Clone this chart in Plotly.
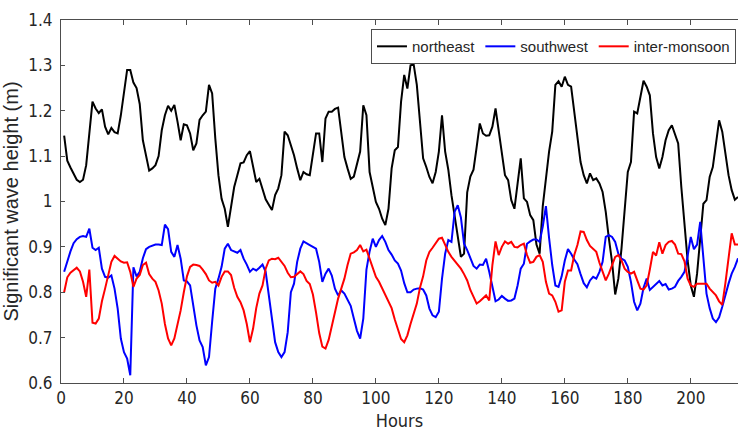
import plotly.graph_objects as go

hours = list(range(1, 216))

northeast = [
    1.145, 1.09, 1.075, 1.06, 1.048, 1.043, 1.048, 1.08, 1.15, 1.22,
    1.205, 1.195, 1.203, 1.165, 1.148, 1.162, 1.153, 1.15, 1.19, 1.24,
    1.29, 1.29, 1.262, 1.25, 1.215, 1.135, 1.105, 1.068, 1.073, 1.08,
    1.10, 1.157, 1.19, 1.211, 1.2, 1.213, 1.176, 1.135, 1.17, 1.168,
    1.15, 1.113, 1.128, 1.18, 1.19, 1.198, 1.257, 1.238, 1.139, 1.058,
    1.006, 0.984, 0.944, 0.988, 1.032, 1.058, 1.084, 1.086, 1.102, 1.111,
    1.08, 1.043, 1.05, 1.025, 1.005, 0.993, 0.981, 1.014, 1.029, 1.058,
    1.154, 1.146, 1.124, 1.102, 1.073, 1.047, 1.065, 1.06, 1.058, 1.102,
    1.15, 1.15, 1.087, 1.183, 1.198, 1.198, 1.204, 1.207, 1.146, 1.098,
    1.073, 1.05, 1.055, 1.085, 1.11, 1.212, 1.19, 1.065, 1.032, 0.999,
    0.984, 0.962, 0.948, 0.984, 1.073, 1.113, 1.12, 1.22, 1.279, 1.249,
    1.3, 1.302, 1.257, 1.172, 1.095, 1.076, 1.054, 1.04, 1.065, 1.11,
    1.19, 1.11, 1.07, 1.014, 0.97, 0.926, 0.878, 0.885, 1.02, 1.055,
    1.07, 1.12, 1.172, 1.15, 1.145, 1.146, 1.165, 1.205, 1.154, 1.102,
    1.058, 1.047, 1.003, 0.984, 1.036, 1.095, 1.007, 0.999, 0.97, 0.959,
    0.905, 0.885, 0.99, 1.058, 1.11, 1.154, 1.257, 1.265, 1.253, 1.275,
    1.257, 1.253, 1.198, 1.139, 1.087, 1.058, 1.04, 1.062, 1.047, 1.051,
    1.04, 1.021, 0.977, 0.918, 0.867, 0.795, 0.83, 0.896, 0.984, 1.065,
    1.087, 1.198, 1.194, 1.234, 1.266, 1.253, 1.234, 1.15, 1.098, 1.073,
    1.098, 1.135, 1.157, 1.168, 1.15, 1.128, 1.032, 0.944, 0.87, 0.815,
    0.79, 0.841, 0.915, 0.995, 1.003, 1.054, 1.076, 1.128, 1.179, 1.154,
    1.106, 1.058, 1.025, 1.004, 1.01,
]

southwest = [
    0.845, 0.868, 0.89, 0.908, 0.917, 0.922, 0.924, 0.922, 0.94, 0.898,
    0.893, 0.898, 0.852, 0.834, 0.832, 0.837, 0.808, 0.764, 0.698, 0.668,
    0.654, 0.617, 0.855, 0.835, 0.845, 0.875, 0.895, 0.9, 0.903, 0.905,
    0.905, 0.904, 0.949, 0.939, 0.889, 0.878, 0.904, 0.874, 0.826, 0.824,
    0.815, 0.771, 0.727, 0.694, 0.679, 0.639, 0.657, 0.735, 0.808, 0.83,
    0.856, 0.896, 0.907, 0.893, 0.89, 0.887, 0.893, 0.874, 0.861, 0.845,
    0.852, 0.848, 0.854, 0.861, 0.845, 0.793, 0.742, 0.69, 0.668, 0.657,
    0.668, 0.712, 0.8, 0.819, 0.867, 0.896, 0.912, 0.907, 0.904, 0.9,
    0.896, 0.867, 0.823, 0.841, 0.852, 0.837, 0.808, 0.793, 0.804, 0.797,
    0.782, 0.77, 0.742, 0.715, 0.698, 0.742, 0.85, 0.89, 0.918, 0.9,
    0.915, 0.924, 0.911, 0.893, 0.883, 0.87, 0.863, 0.848, 0.82, 0.8,
    0.8, 0.806, 0.808, 0.809, 0.806, 0.793, 0.764, 0.749, 0.745, 0.757,
    0.83, 0.885, 0.915, 0.911, 0.977, 0.992, 0.965, 0.907, 0.893, 0.875,
    0.858, 0.852, 0.861, 0.86, 0.874, 0.845, 0.815, 0.78, 0.784, 0.792,
    0.786, 0.781, 0.782, 0.786, 0.815, 0.852, 0.863, 0.907, 0.912, 0.916,
    0.916, 0.911, 0.945, 0.99, 0.92, 0.86, 0.815, 0.812, 0.835, 0.87,
    0.895, 0.885, 0.872, 0.862, 0.84, 0.82, 0.811, 0.826, 0.834, 0.83,
    0.845, 0.867, 0.922, 0.926, 0.922, 0.911, 0.885, 0.874, 0.87, 0.856,
    0.823, 0.779, 0.76, 0.775, 0.81, 0.83, 0.805, 0.812, 0.82, 0.825,
    0.815, 0.818, 0.806, 0.808, 0.812, 0.825, 0.834, 0.845, 0.88, 0.922,
    0.895, 0.905, 0.955, 0.87, 0.797, 0.765, 0.742, 0.734, 0.745, 0.768,
    0.797, 0.819, 0.841, 0.856, 0.875,
]

inter_monsoon = [
    0.8, 0.833, 0.843, 0.848, 0.854, 0.846, 0.823, 0.79, 0.85, 0.733,
    0.731, 0.742, 0.78, 0.808, 0.837, 0.867, 0.88, 0.873, 0.868, 0.865,
    0.866, 0.845, 0.812, 0.83, 0.838, 0.86, 0.865, 0.84, 0.83, 0.823,
    0.804, 0.775, 0.73, 0.698, 0.683, 0.698, 0.727, 0.76, 0.8, 0.835,
    0.856, 0.861, 0.86, 0.858, 0.85, 0.84, 0.826, 0.821, 0.823, 0.815,
    0.834, 0.846, 0.846, 0.838, 0.81, 0.79, 0.778, 0.76, 0.73, 0.69,
    0.72, 0.765, 0.797, 0.815, 0.852, 0.87, 0.874, 0.873, 0.876, 0.868,
    0.858, 0.843, 0.833, 0.834, 0.841, 0.846, 0.84, 0.825, 0.818, 0.795,
    0.755, 0.71, 0.68, 0.676, 0.695, 0.725, 0.757, 0.786, 0.808, 0.83,
    0.86, 0.885, 0.888, 0.893, 0.904, 0.89, 0.894, 0.874, 0.852, 0.834,
    0.823, 0.808, 0.795, 0.778, 0.765, 0.74, 0.72, 0.697, 0.69, 0.705,
    0.73, 0.75, 0.775, 0.81, 0.835, 0.87, 0.889, 0.898, 0.909, 0.918,
    0.92, 0.905, 0.889, 0.878, 0.87, 0.86, 0.852, 0.84, 0.826, 0.805,
    0.788, 0.775, 0.78, 0.786, 0.793, 0.782, 0.86, 0.912, 0.882, 0.9,
    0.912, 0.907, 0.911, 0.9, 0.899, 0.904, 0.907, 0.882, 0.865, 0.867,
    0.878, 0.882, 0.867, 0.823, 0.797, 0.793, 0.779, 0.757, 0.76, 0.823,
    0.848, 0.848, 0.882, 0.904, 0.934, 0.933, 0.915, 0.902, 0.896, 0.889,
    0.865, 0.845, 0.826, 0.841, 0.86, 0.878, 0.882, 0.87, 0.852, 0.845,
    0.841, 0.845, 0.826, 0.808, 0.806, 0.815, 0.85, 0.889, 0.881, 0.91,
    0.885, 0.904, 0.911, 0.913, 0.905, 0.885, 0.884, 0.868, 0.83, 0.815,
    0.812, 0.819, 0.819, 0.819, 0.819, 0.808, 0.8, 0.793, 0.78, 0.772,
    0.82, 0.87, 0.93, 0.905, 0.905,
]

x_ticks = [0, 20, 40, 60, 80, 100, 120, 140, 160, 180, 200]
y_ticks = [0.6, 0.7, 0.8, 0.9, 1.0, 1.1, 1.2, 1.3, 1.4]
y_tick_labels = ["0.6", "0.7", "0.8", "0.9", "1", "1.1", "1.2", "1.3", "1.4"]

series = [
    ("northeast", northeast, "#000000"),
    ("southwest", southwest, "#0000FF"),
    ("inter-monsoon", inter_monsoon, "#FF0000"),
]

fig = go.Figure()
for name, vals, color in series:
    fig.add_trace(go.Scatter(
        x=hours, y=vals, mode="lines", name=name,
        line=dict(color=color, width=2),
    ))

narrow = "Liberation Sans Narrow, Arial Narrow, DejaVu Sans Condensed, Liberation Sans, Arial, sans-serif"
regular = "Liberation Sans, Arial, sans-serif"
axis_color = "#4d4d4d"
text_color = "#262626"

fig.update_layout(
    width=738, height=431,
    margin=dict(l=61, r=0, t=20, b=48, autoexpand=False),
    paper_bgcolor="white", plot_bgcolor="white",
    font=dict(family=regular, color=text_color),
    showlegend=True,
    legend=dict(
        orientation="h", x=0.997, xanchor="right", y=0.975, yanchor="top",
        bgcolor="white", bordercolor=axis_color, borderwidth=1,
        font=dict(size=15, family=regular, color=text_color),
        itemwidth=30,
    ),
)
fig.update_xaxes(
    range=[0, 215], tickvals=x_ticks, ticks="inside", ticklen=5,
    tickcolor=axis_color, showline=True, linecolor=axis_color, linewidth=1,
    mirror="ticks", showgrid=False, zeroline=False, automargin=False,
    tickfont=dict(size=17, family=narrow, color=text_color),
    title=dict(text="Hours", font=dict(size=18, family=narrow, color=text_color), standoff=6),
)
fig.update_yaxes(
    range=[0.6, 1.4], tickvals=y_ticks, ticktext=y_tick_labels,
    ticks="inside", ticklen=4, tickcolor=axis_color,
    showline=True, linecolor=axis_color, linewidth=1, mirror=False,
    showgrid=False, zeroline=False, ticklabelstandoff=4, automargin=False,
    tickfont=dict(size=17, family=narrow, color=text_color),
    title=dict(text="Significant wave height (m)",
               font=dict(size=20, family=regular, color=text_color),
               standoff=4),
)

fig.write_html(
    "out.html",
    config={"displayModeBar": False},
    post_script="document.body.style.margin='0';document.body.style.overflow='hidden';",
)
